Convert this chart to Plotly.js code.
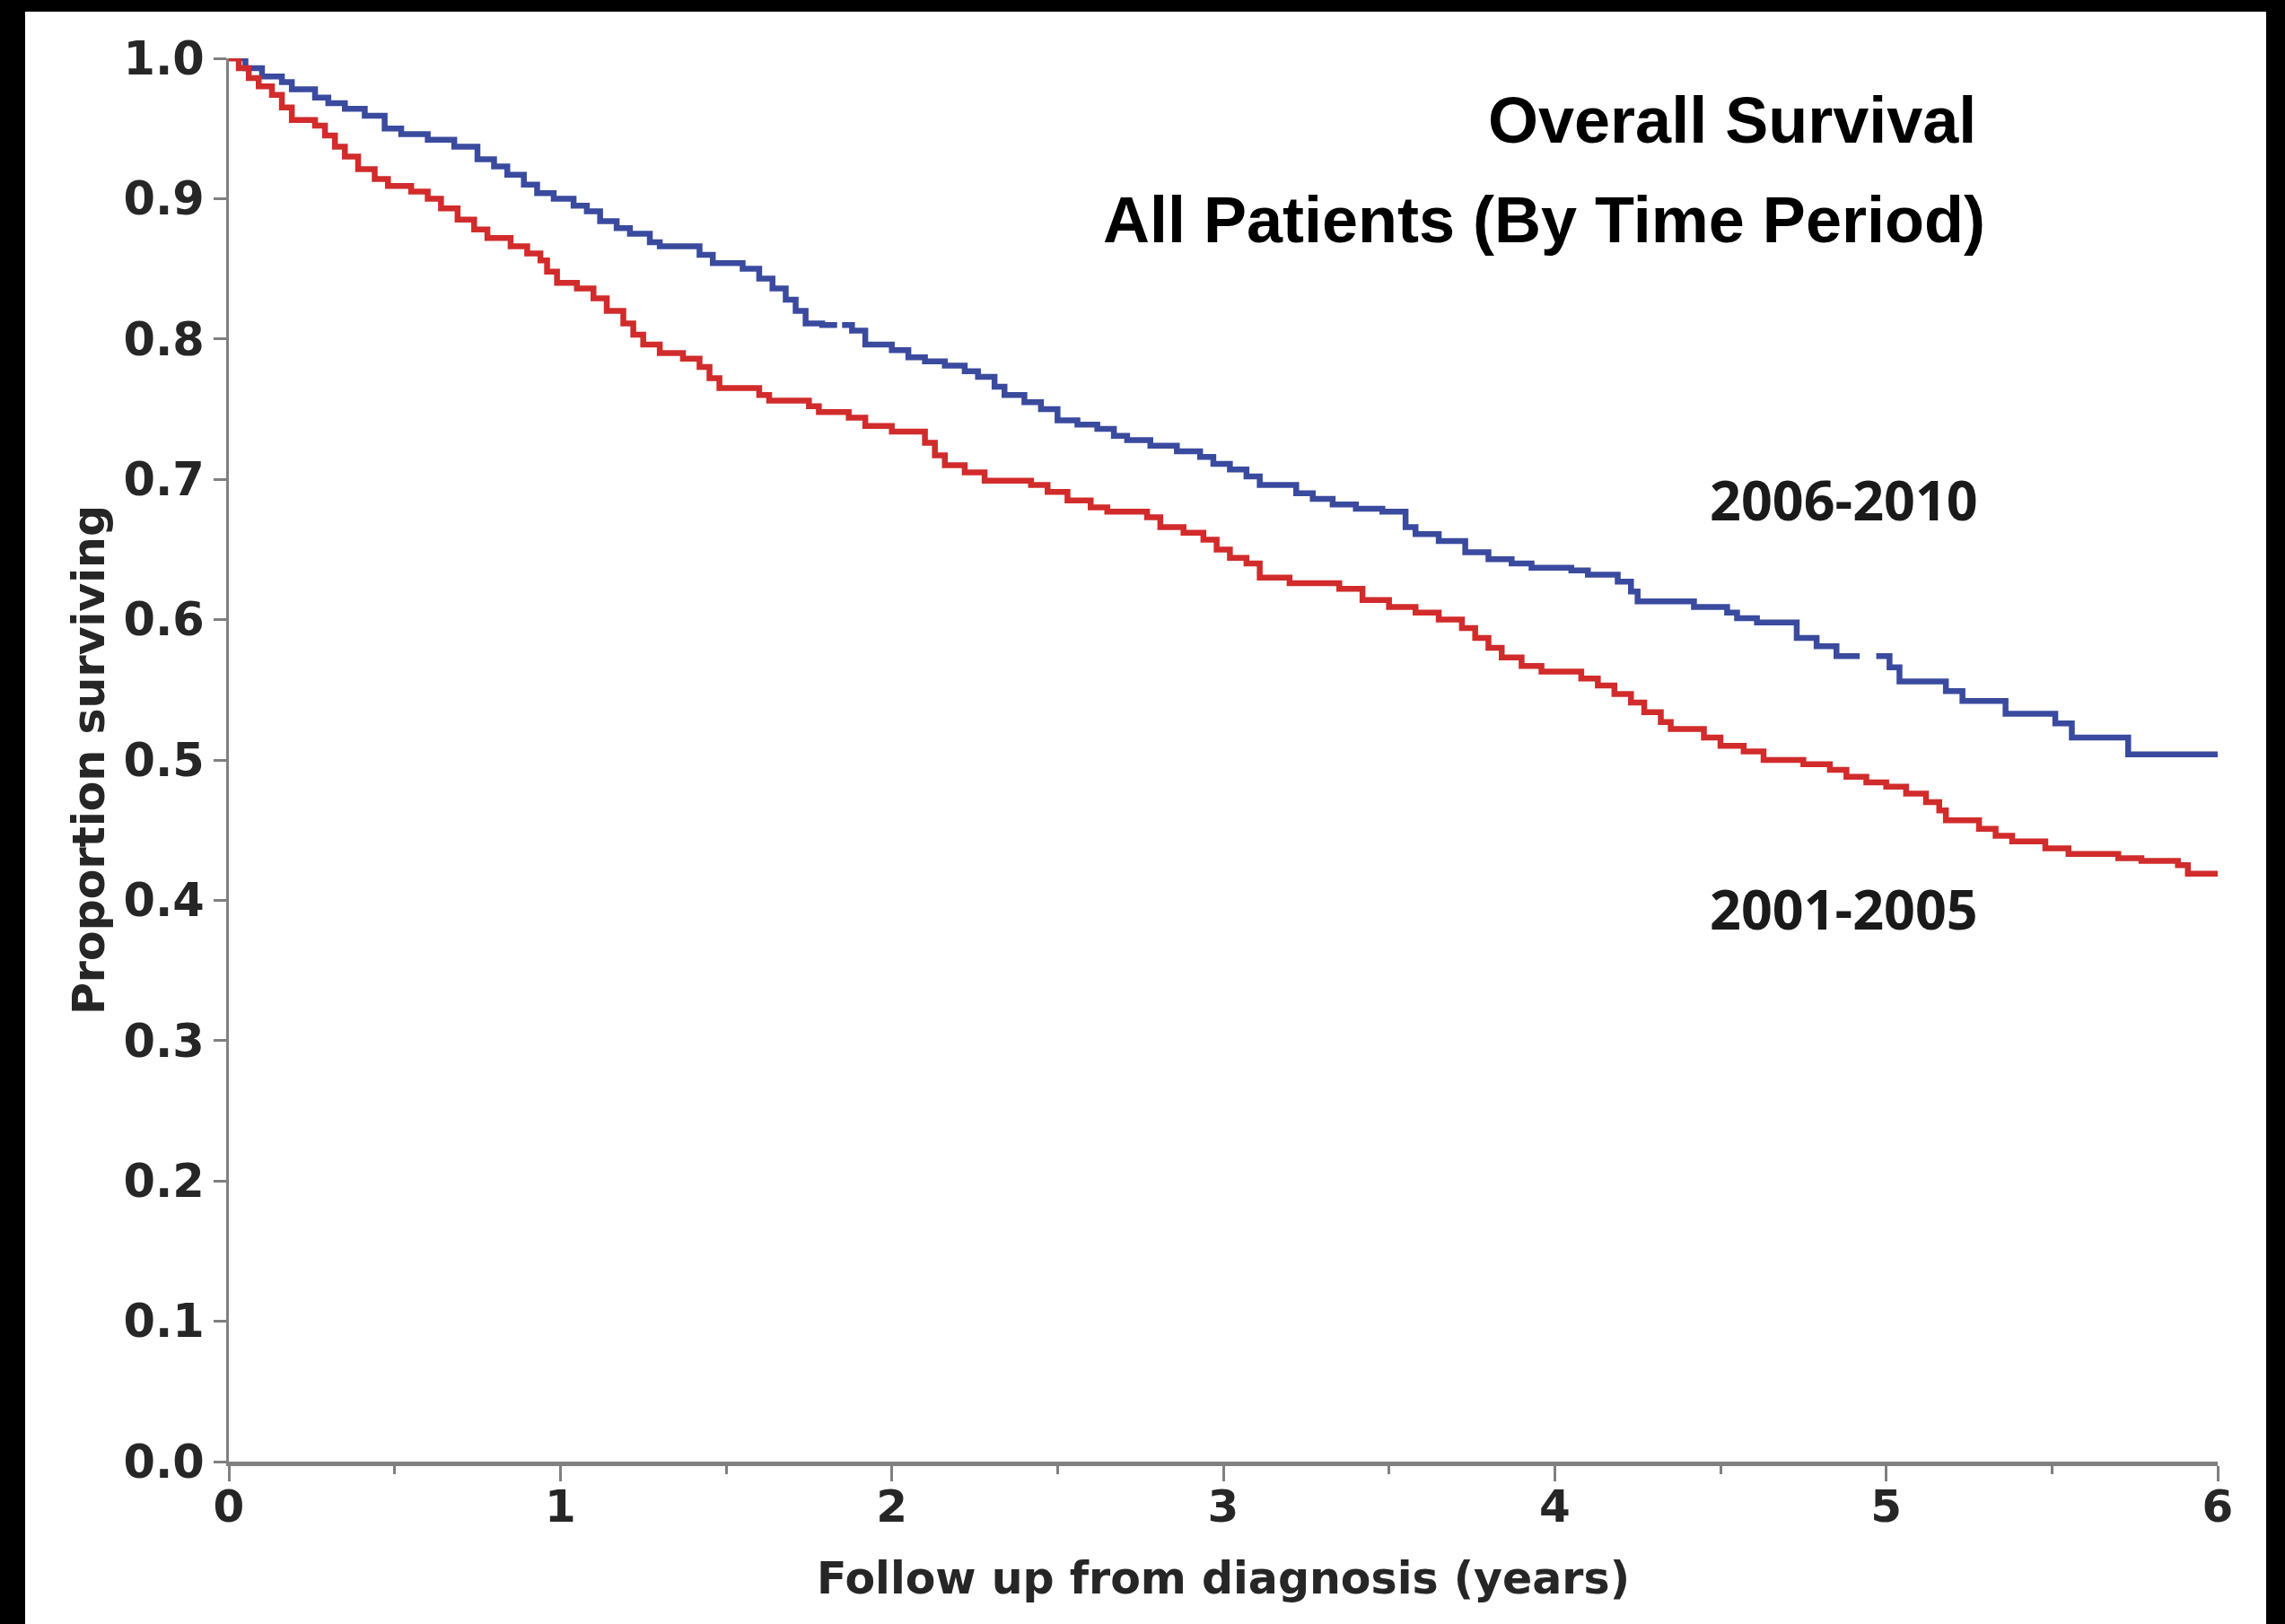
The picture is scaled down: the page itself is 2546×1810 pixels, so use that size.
<!DOCTYPE html>
<html>
<head>
<meta charset="utf-8">
<script src="https://cdn.plot.ly/plotly-3.0.1.min.js"></script>
<style>
  html, body { margin: 0; padding: 0; background: #000; width: 2546px; height: 1810px; overflow: hidden; }
  #chart { position: absolute; left: 28px; top: 13px; width: 2497px; height: 1797px; background: #fff; }
</style>
</head>
<body>
<div id="chart"></div>
<script>
// Kaplan-Meier step data (years, proportion surviving)
const timeRecent = [0, 0.05, 0.10, 0.16, 0.19, 0.26, 0.30, 0.35, 0.41, 0.47, 0.52, 0.60, 0.68, 0.75, 0.80, 0.84, 0.89, 0.93, 0.98,
  1.04, 1.08, 1.12, 1.17, 1.21, 1.27, 1.30, 1.42, 1.46, 1.55, 1.60, 1.64, 1.68, 1.71, 1.74, 1.79, 1.835, 1.84, 1.85, 1.88, 1.92,
  2.00, 2.05, 2.10, 2.16, 2.22, 2.26, 2.31, 2.34, 2.40, 2.45, 2.50, 2.56, 2.62, 2.67, 2.71, 2.78, 2.86, 2.93, 2.97,
  3.02, 3.07, 3.11, 3.22, 3.27, 3.33, 3.40, 3.48, 3.55, 3.58, 3.65, 3.73, 3.80, 3.87, 3.93,
  4.05, 4.10, 4.19, 4.23, 4.25, 4.42, 4.52, 4.55, 4.61, 4.73, 4.79, 4.85, 4.92, 4.945, 4.97,
  5.01, 5.04, 5.18, 5.23, 5.36, 5.51, 5.56, 5.73, 6.00];
const survRecent = [1.000, 0.993, 0.987, 0.983, 0.978, 0.972, 0.968, 0.964, 0.959, 0.950, 0.946, 0.942, 0.937, 0.928, 0.923, 0.917, 0.910, 0.904, 0.900,
  0.895, 0.891, 0.884, 0.879, 0.875, 0.869, 0.866, 0.860, 0.854, 0.850, 0.843, 0.836, 0.828, 0.820, 0.811, 0.810, 0.810, null, 0.810, 0.806, 0.796,
  0.792, 0.787, 0.784, 0.781, 0.777, 0.773, 0.766, 0.760, 0.755, 0.750, 0.742, 0.739, 0.736, 0.731, 0.728, 0.724, 0.720, 0.716, 0.711,
  0.707, 0.702, 0.696, 0.690, 0.686, 0.682, 0.679, 0.677, 0.666, 0.661, 0.656, 0.648, 0.643, 0.640, 0.637,
  0.635, 0.632, 0.627, 0.620, 0.613, 0.609, 0.605, 0.601, 0.598, 0.587, 0.581, 0.574, 0.574, null, 0.574,
  0.566, 0.556, 0.549, 0.542, 0.533, 0.526, 0.516, 0.504, 0.504];

const timeEarly = [0, 0.03, 0.06, 0.09, 0.13, 0.16, 0.19, 0.26, 0.29, 0.32, 0.35, 0.39, 0.44, 0.48, 0.55, 0.60, 0.64, 0.69, 0.74, 0.78, 0.85, 0.90, 0.94, 0.96, 0.99,
  1.05, 1.10, 1.14, 1.19, 1.22, 1.25, 1.30, 1.37, 1.42, 1.45, 1.48, 1.60, 1.63, 1.75, 1.78, 1.87, 1.92,
  2.00, 2.10, 2.13, 2.16, 2.22, 2.28, 2.42, 2.47, 2.53, 2.60, 2.65, 2.77, 2.81, 2.88, 2.94, 2.98,
  3.02, 3.07, 3.11, 3.20, 3.35, 3.42, 3.50, 3.58, 3.65, 3.72, 3.76, 3.80, 3.84, 3.90, 3.96,
  4.08, 4.13, 4.18, 4.23, 4.27, 4.32, 4.35, 4.45, 4.50, 4.57, 4.63, 4.75, 4.83, 4.88, 4.94,
  5.00, 5.06, 5.12, 5.16, 5.18, 5.28, 5.33, 5.38, 5.48, 5.55, 5.70, 5.77, 5.88, 5.91, 6.00];
const survEarly = [1.000, 0.993, 0.986, 0.980, 0.974, 0.965, 0.956, 0.952, 0.945, 0.937, 0.930, 0.921, 0.914, 0.909, 0.905, 0.900, 0.893, 0.885, 0.878, 0.872, 0.866, 0.861, 0.856, 0.848, 0.840,
  0.836, 0.829, 0.820, 0.811, 0.803, 0.796, 0.790, 0.786, 0.780, 0.772, 0.765, 0.760, 0.756, 0.752, 0.748, 0.744, 0.738,
  0.734, 0.726, 0.717, 0.710, 0.705, 0.699, 0.696, 0.691, 0.685, 0.680, 0.677, 0.673, 0.666, 0.662, 0.657, 0.650,
  0.644, 0.640, 0.630, 0.626, 0.622, 0.614, 0.609, 0.605, 0.600, 0.594, 0.587, 0.580, 0.573, 0.567, 0.563,
  0.558, 0.553, 0.547, 0.541, 0.534, 0.527, 0.522, 0.516, 0.510, 0.506, 0.500, 0.497, 0.493, 0.488, 0.484,
  0.481, 0.476, 0.470, 0.464, 0.457, 0.451, 0.446, 0.442, 0.437, 0.433, 0.430, 0.428, 0.425, 0.419, 0.419];

const seriesNames = ['2006-2010', '2001-2005'];
const titleLines = ['Overall Survival', 'All Patients (By Time Period)'];
const xTitle = 'Follow up from diagnosis (years)';
const yTitle = 'Proportion surviving';

const yTickFont = { family: 'DejaVu Sans, sans-serif', size: 51, color: '#262626', weight: 'bold' };
const xTickFont = { family: 'DejaVu Sans, sans-serif', size: 50, color: '#262626', weight: 'bold' };
const axisTitleFont = { family: 'DejaVu Sans, sans-serif', size: 49, color: '#262626', weight: 'bold' };

const traces = [
  { x: timeRecent, y: survRecent, name: seriesNames[0], mode: 'lines', line: { shape: 'hv', color: '#3a4a9e', width: 6.5 }, connectgaps: false, cliponaxis: false },
  { x: timeEarly, y: survEarly, name: seriesNames[1], mode: 'lines', line: { shape: 'hv', color: '#d12b2b', width: 6.5 }, connectgaps: false, cliponaxis: false }
];

const layout = {
  width: 2497, height: 1797,
  paper_bgcolor: '#fff', plot_bgcolor: '#fff',
  margin: { l: 227, r: 54, t: 52, b: 181 },
  showlegend: false,
  xaxis: {
    range: [0, 6], dtick: 1, tick0: 0, tickformat: 'd',
    showgrid: false, zeroline: false,
    showline: true, linecolor: '#808080', linewidth: 5,
    ticks: 'outside', ticklen: 17, tickwidth: 3, tickcolor: '#808080',
    ticklabelstandoff: -15,
    minor: { dtick: 0.5, ticks: 'outside', ticklen: 9, tickwidth: 3, tickcolor: '#808080', showgrid: false },
    tickfont: xTickFont,
    title: { text: xTitle, font: axisTitleFont, standoff: 36 }
  },
  yaxis: {
    range: [0, 1], dtick: 0.1, tick0: 0, tickformat: '.1f',
    showgrid: false, zeroline: false,
    showline: true, linecolor: '#808080', linewidth: 3,
    ticks: 'outside', ticklen: 14, tickwidth: 3, tickcolor: '#808080',
    tickfont: yTickFont,
    title: { text: yTitle, font: axisTitleFont, standoff: 6 }
  },
  annotations: [
    { text: titleLines[0], xref: 'paper', yref: 'paper', x: 0.8795, y: 0.956, xanchor: 'right', yanchor: 'middle', showarrow: false,
      font: { family: 'Liberation Sans, Arial, sans-serif', size: 72, color: '#000', weight: 'bold' } },
    { text: titleLines[1], xref: 'paper', yref: 'paper', x: 0.884, y: 0.885, xanchor: 'right', yanchor: 'middle', showarrow: false,
      font: { family: 'Liberation Sans, Arial, sans-serif', size: 72, color: '#000', weight: 'bold' } },
    { text: seriesNames[0], xref: 'x', yref: 'y', x: 4.462, y: 0.686, xanchor: 'left', yanchor: 'middle', showarrow: false,
      font: { family: 'Open Sans, sans-serif', size: 61, color: '#1a1a1a', weight: 'bold' } },
    { text: seriesNames[1], xref: 'x', yref: 'y', x: 4.462, y: 0.394, xanchor: 'left', yanchor: 'middle', showarrow: false,
      font: { family: 'Open Sans, sans-serif', size: 61, color: '#1a1a1a', weight: 'bold' } }
  ]
};

Plotly.newPlot('chart', traces, layout, { displayModeBar: false, staticPlot: true });
</script>
</body>
</html>
